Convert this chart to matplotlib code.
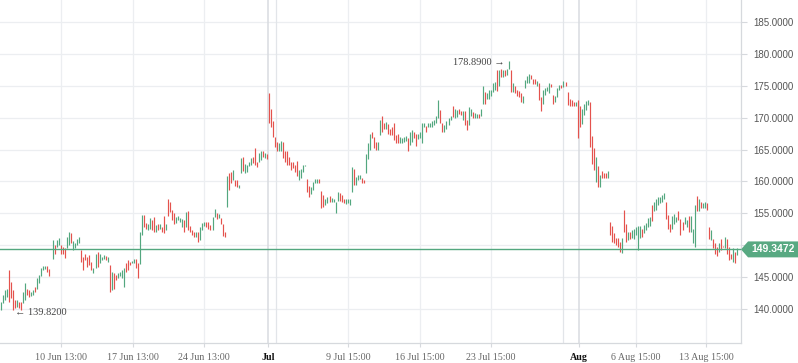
import numpy as np
import matplotlib
matplotlib.use("Agg")
import matplotlib.pyplot as plt
from matplotlib.patches import Polygon
import matplotlib.transforms as mtransforms

# hourly bars (None = missing bar)
highs = [
    141.1, 142.2, 143.0, 143.2, 146.1, 144.3, 143.0, 141.4, 141.4, 141.1,
    141.1, 142.7, 144.0, 143.2, 143.0, 142.7, 143.0, 143.5, 144.8, 145.3,
    146.4, 146.7, 146.7, 146.7, 146.2, None,
    150.8, 150.0, 150.8, 151.1, 150.0, 149.8, 149.5, 151.3, 152.1, 151.9,
    150.6, 150.3, 150.9, 151.3, 149.2, 148.2, 148.7, 148.2, 148.5, 147.4,
    146.4, 148.7, 149.0, 148.7, 148.2, 148.5, 148.3, 148.2, 146.9, 145.8,
    145.6, 145.3, 145.6, 145.8, 146.1, 146.4, 147.2, 147.7, 147.4, 147.6,
    147.9, 147.8, 147.2, 152.1, 154.8, 154.7, 153.5, 153.4, 154.2, 153.9,
    154.4, 153.2, 153.4, 153.4, 152.9, 154.6, 153.3, 157.2, 156.8, 155.5,
    155.0, 154.5, 154.6, 154.2, 154.05, 153.9, 155.25, 155.4, 153.05, 152.4,
    152.1, 152.1, 152.1, 152.9, 153.5, 153.7, 153.7, 153.7, 153.2, 154.4,
    155.7, 155.0, 154.9, 154.2, 153.3, 152.0, 160.8, 161.3, 161.5, 161.8,
    160.3, 160.2, 159.4, 163.6, 163.8, 162.8, 162.6, 163.1, 163.6, 163.8,
    165.2, 163.1, 164.4, 164.8, 164.7, 164.4, 164.3, 173.9, 171.3, 169.5,
    167.0, 166.2, 166.1, 166.3, 166.2, 164.8, 164.7, 163.9, 163.1, 163.1,
    162.6, 163.25, 161.8, 161.9, 162.6, 162.6, 160.4, 159.3, 159.2, 159.85,
    160.4, 160.4, 160.4, 158.55, 157.9, 157.2, 157.5, 157.7, 157.45, 157.3,
    156.8, 158.3, 158.2, 157.9, 157.2, 157.2, 157.2, 157.3, 162.2, 161.9,
    160.7, 161.0, 161.0, 160.5, 160.2, 164.3, 166.1, 167.4, 167.8, 167.0,
    166.2, 166.2, 169.7, 170.3, 169.2, 169.3, 169.0, 168.3, 168.5, 169.1,
    167.3, 167.4, 167.0, 166.8, 167.0, 167.1, 166.8, 167.8, 168.1, 167.8,
    167.5, 167.5, 167.8, 169.1, 169.2, 168.7, 169.1, 169.1, 169.4, 169.6,
    170.2, 172.7, 171.2, 169.1, 168.85, 169.5, 169.9, 170.2, 171.8, 171.3,
    171.2, 171.3, 171.0, 171.1, 171.0, 169.6, 171.6, 171.3, 170.9, 170.7,
    170.5, 170.6, 171.3, 174.9, 174.1, 173.8, 174.4, 174.4, 175.4, 175.6,
    177.5, 177.5, 177.6, 177.5, 177.4, 177.7, 178.89, 177.4, 175.5, 175.0,
    174.4, 174.2, 173.8, 173.4, 175.9, 176.5, 176.8, 176.7, 176.0, 176.0,
    175.8, 175.4, 173.3, 174.3, 174.6, 174.75, 175.4, 175.3, 173.55, 173.4,
    174.7, 175.1, 175.2, 175.75, 175.6, 174.1, 173.0, 172.8, 172.5, 172.5,
    172.7, 171.8, 171.3, 172.2, 172.6, 172.7, 172.5, 167.1, 165.2, 163.9,
    162.4, 161.0, 161.6, 161.3, 161.3, 161.6, 153.7, 153.0, 151.9, 151.2,
    151.1, 150.55, 151.2, 155.5, 153.4, 152.0, 152.0, 152.4, 152.6, 152.8,
    153.0, 153.0, 152.6, 153.2, 153.5, 154.2, 154.5, 156.3, 156.8, 157.2,
    157.5, 157.6, 157.9, 158.2, 156.7, 154.7, 153.4, 154.6, 154.9, 154.5,
    155.3, 154.05, 153.7, 154.5, 153.95, 154.6, 154.6, 152.5, 156.3, 157.7,
    157.2, 156.8, 156.6, 156.8, 156.6, 152.8, 152.4, 151.0, 150.3, 149.8,
    150.4, 150.9, 149.9, 151.3, 150.9, 149.8, 148.7, 149.5, 149.0, 149.5,
]
lows = [
    139.9, 140.9, 141.4, 141.9, 141.1, 141.7, 139.82, 140.1, 140.25, 140.1,
    139.85, 140.9, 141.4, 142.2, 141.9, 142.0, 142.2, 142.7, 143.2, 144.0,
    145.1, 146.1, 146.2, 145.8, 145.2, None,
    147.8, 148.7, 149.8, 150.0, 148.7, 148.7, 148.0, 149.5, 150.0, 150.3,
    149.2, 149.5, 150.0, 150.3, 147.4, 146.1, 147.7, 146.6, 146.9, 146.1,
    145.6, 146.4, 146.6, 147.2, 147.7, 147.9, 147.7, 147.3, 142.7, 143.0,
    143.2, 144.5, 144.8, 145.1, 144.8, 143.5, 145.8, 146.1, 146.9, 147.2,
    147.2, 146.5, 144.8, 147.0, 151.6, 152.9, 152.6, 152.4, 152.6, 152.4,
    152.1, 152.1, 152.4, 152.6, 152.1, 151.85, 152.4, 154.6, 155.25, 153.9,
    153.4, 153.5, 153.9, 153.7, 152.9, 152.0, 152.9, 152.4, 152.1, 151.6,
    151.3, 151.3, 150.55, 150.8, 152.4, 153.05, 152.9, 152.6, 152.4, 152.4,
    154.4, 154.05, 154.2, 153.4, 151.4, 151.3, 156.0, 158.65, 159.7, 160.2,
    159.3, 159.2, 158.9, 161.3, 161.7, 161.3, 161.5, 162.4, 162.6, 162.9,
    162.6, 162.3, 163.1, 163.4, 163.9, 163.6, 163.5, 169.1, 168.6, 167.0,
    165.45, 164.7, 164.7, 164.7, 163.6, 163.1, 162.6, 162.6, 161.8, 162.05,
    161.5, 160.85, 160.3, 160.6, 161.5, 162.4, 158.4, 157.6, 158.1, 158.65,
    159.7, 159.8, 159.8, 155.9, 156.0, 156.3, 156.6, 156.8, 156.7, 156.8,
    155.0, 157.0, 157.0, 156.8, 156.6, 156.45, 156.6, 156.3, 158.4, 159.4,
    159.4, 160.2, 160.4, 159.8, 159.7, 161.4, 163.5, 164.9, 166.8, 165.2,
    164.9, 164.9, 167.3, 167.8, 168.3, 168.3, 167.4, 167.3, 167.3, 166.5,
    166.1, 166.1, 166.1, 166.1, 166.2, 166.4, 164.7, 165.7, 166.2, 166.8,
    165.55, 166.6, 166.8, 166.0, 168.6, 167.8, 168.6, 168.6, 168.6, 168.85,
    169.1, 169.9, 169.1, 167.8, 167.8, 168.3, 168.85, 169.6, 170.15, 169.9,
    170.15, 170.5, 170.4, 169.6, 168.85, 168.1, 168.85, 170.25, 169.9, 169.9,
    169.9, 169.9, 170.25, 172.2, 172.1, 172.9, 173.0, 173.4, 174.1, 174.3,
    174.2, 174.9, 176.3, 176.4, 176.5, 176.7, 177.6, 174.1, 174.1, 173.9,
    173.4, 173.3, 172.5, 172.35, 174.6, 175.4, 175.5, 176.0, 175.3, 175.3,
    174.9, 172.8, 171.1, 172.2, 173.55, 174.2, 173.9, 174.75, 172.2, 172.5,
    173.3, 174.4, 174.6, 174.75, 174.9, 172.0, 171.9, 171.9, 171.9, 171.8,
    166.85, 168.5, 169.0, 170.4, 171.2, 172.0, 165.4, 162.8, 161.8, 159.95,
    159.2, 159.2, 160.5, 160.5, 160.6, 160.5, 151.6, 150.55, 150.3, 150.0,
    149.8, 149.0, 148.8, 152.0, 150.55, 150.8, 150.9, 151.1, 150.9, 151.6,
    149.2, 151.1, 151.3, 151.9, 152.4, 152.8, 153.0, 153.8, 155.4, 155.6,
    156.3, 156.6, 156.8, 157.2, 154.05, 152.5, 152.1, 152.6, 153.4, 153.7,
    153.95, 151.6, 152.4, 153.4, 152.8, 152.0, 152.1, 150.4, 149.8, 155.3,
    155.3, 155.8, 155.8, 155.8, 155.6, 150.9, 150.8, 149.5, 148.7, 148.3,
    149.0, 149.2, 149.8, 149.5, 148.7, 147.7, 147.9, 147.4, 147.25, 148.5,
]
# g = closed up, r = closed down, - = no bar
direction = (
    "ggggrrrrgrrggrrggrgggggrr" + "-" +
    "grggrrrggrggggrrrrrrggrgg" +
    "grgrgrrggggrrrggrrggrrggr" +
    "rgrgrrgrrrrggggrgrrrrgrgg" +
    "grrrggrgrrrgrrgrrggrggggr" +
    "rrggrgrrrrrrggrrrrrrrrggg" +
    "grrggggrrrggrggggrrrggggr" +
    "gggrrgggrrrggrrgrrrrrrggg" +
    "grggrrggggrggggggrrggggrg" +
    "grrgrrggrggrggrgggggrgrgr" +
    "ggrgrrrrggggrrrgrrggggrrg" +
    "ggrgrrrrrgrrggggrrrgrgrrr" +
    "grrrrrrgrrgrgggggrggggrgg" +
    "ggggrrrgggrrrggrgggrgrggr" +
    "rgrrrgrrgrrrgrg"
)
last_price = 149.3472

tick_pos = [29.9, 65.6, 100.8, 132.5, 172.2, 207.9, 243.1, 286.7, 315.0, 349.7]
tick_labels = ["10 Jun 13:00", "17 Jun 13:00", "24 Jun 13:00", "Jul", "9 Jul 15:00",
               "16 Jul 15:00", "23 Jul 15:00", "Aug", "6 Aug 15:00", "13 Aug 15:00"]
month_labels = ["Jul", "Aug"]
extra_lines = [136.5, 278.8]
y_ticks = list(range(140, 186, 5))

GREEN = "#53a77f"
RED = "#e4524d"
GRID = "#eceef1"

hi = np.array(highs, dtype=float)
lo = np.array(lows, dtype=float)
x = np.arange(len(hi))
cols = [GREEN if d == "g" else RED for d in direction]

fig = plt.figure(figsize=(7.98, 3.63), dpi=100)
ax = fig.add_axes([0, 20 / 363, 741 / 798, 343 / 363])

ax.vlines(x, lo, hi, colors=cols, linewidth=0.85, zorder=3)

ax.set_xlim(-0.35, 367)
ax.set_ylim(134.67, 188.45)

# grid
for v in y_ticks:
    ax.axhline(v, color=GRID, lw=0.9, zorder=0)
for p, lab in zip(tick_pos, tick_labels):
    if lab in month_labels:
        ax.axvline(p, color="#d8dbe0", lw=1.1, zorder=0)
    else:
        ax.axvline(p, color=GRID, lw=0.9, zorder=0)
for p in extra_lines:
    ax.axvline(p, color="#e2e5e9", lw=0.9, zorder=0)

ax.axhline(last_price, color=GREEN, lw=1.0, zorder=4)

# axes styling
for s in ["top", "left"]:
    ax.spines[s].set_visible(False)
for s in ["bottom", "right"]:
    ax.spines[s].set_color("#d6d9dd")
    ax.spines[s].set_linewidth(0.9)

# the 150 label sits under the last-price tag, so it is left blank
ax.yaxis.tick_right()
ax.set_yticks(y_ticks)
ax.set_yticklabels(["" if v == 150 else "%.4f" % v for v in y_ticks],
                   fontsize=7, color="#555555", family="Liberation Sans")
ax.tick_params(axis="y", length=4, color="#d6d9dd", pad=5)

ax.set_xticks(tick_pos)
ax.set_xticklabels(tick_labels, fontsize=7.2, color="#666666", family="Liberation Serif")
for t in ax.get_xticklabels():
    if t.get_text() in month_labels:
        t.set_color("#111111")
        t.set_fontweight("bold")
ax.tick_params(axis="x", length=3, color="#d6d9dd", pad=4)

# high / low markers
i_hi = int(np.nanargmax(hi))
i_lo = int(np.nanargmin(lo))
serif = ["Liberation Serif", "DejaVu Sans"]
ax.annotate("%.4f \u2192" % hi[i_hi], (i_hi, hi[i_hi]), xytext=(-3, -1),
            textcoords="offset points", ha="right", va="center",
            fontsize=7.5, color="#444444", family=serif)
ax.annotate("\u2190 %.4f" % lo[i_lo], (i_lo, lo[i_lo]), xytext=(1.5, -1.5),
            textcoords="offset points", ha="left", va="center",
            fontsize=7.5, color="#444444", family=serif)

# last price tag on the right axis
tr = mtransforms.blended_transform_factory(ax.transAxes, ax.transData)
h = 1.25
tag = Polygon([(1.0, last_price), (1.0095, last_price + h), (1.0775, last_price + h),
               (1.0775, last_price - h), (1.0095, last_price - h)],
              closed=True, transform=tr, facecolor="#58a982", edgecolor="none",
              clip_on=False, zorder=5)
ax.add_patch(tag)
ax.text(1.0435, last_price, "%.4f" % last_price, transform=tr, ha="center", va="center",
        fontsize=7.5, color="white", fontweight="bold", family="Liberation Sans",
        clip_on=False, zorder=6)

fig.savefig("out.png", dpi=100)
